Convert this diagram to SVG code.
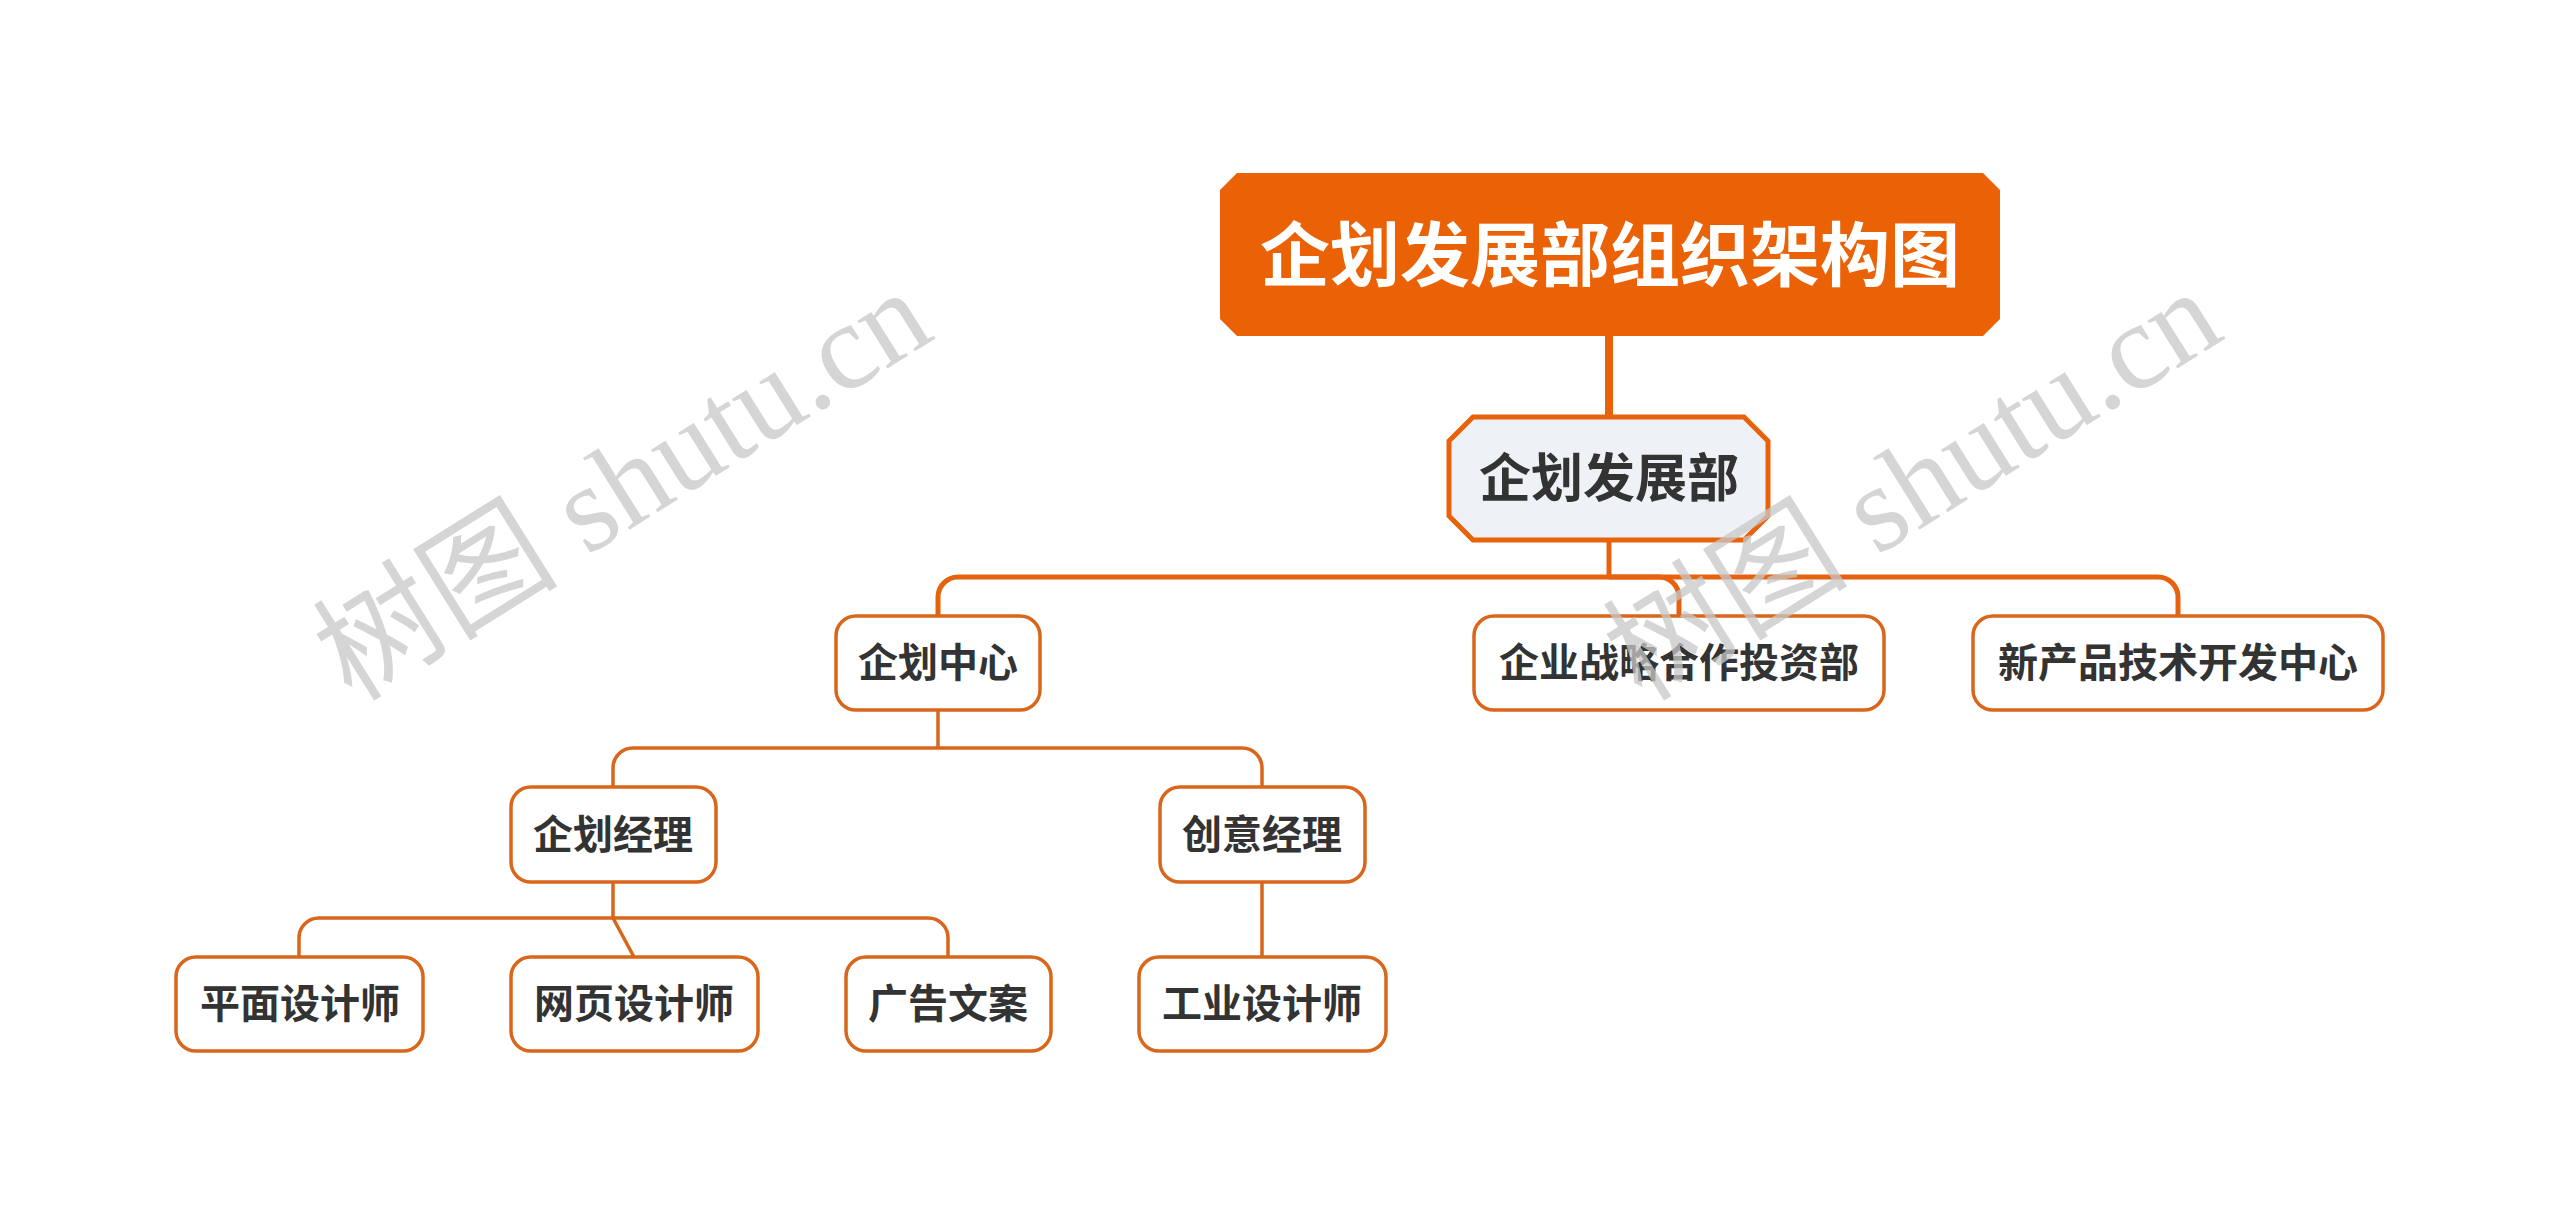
<svg xmlns="http://www.w3.org/2000/svg" width="2560" height="1227" viewBox="0 0 2560 1227">
<style>
.bg{fill:#ffffff}
.c1{fill:none;stroke:#E6620E;stroke-width:5}
.c2{fill:none;stroke:#D9661A;stroke-width:3.5}
.node rect{fill:#ffffff;stroke:#D9661A;stroke-width:3.5}
.t{font-family:"Noto Sans CJK SC","Noto Sans",sans-serif;font-weight:bold;fill:#333333;text-anchor:middle}
.t40{font-size:40px}
.wm{font-family:"Liberation Serif","Noto Sans CJK SC",serif;font-size:123px;fill:#c8c8c8;opacity:0.75}
</style>
<rect class="bg" x="0" y="0" width="2560" height="1227"/>
<g id="connectors">
<line x1="1609" y1="334" x2="1609" y2="417" stroke="#E8620A" stroke-width="8"/>
<line class="c1" x1="1609" y1="542" x2="1609" y2="577"/>
<path class="c1" d="M938,616 V597 A20,20 0 0 1 958,577 H2158 A20,20 0 0 1 2178,597 V616"/>
<path class="c1" d="M1609,577 H1659 A20,20 0 0 1 1679,597 V616"/>
<line class="c2" x1="938" y1="710" x2="938" y2="748"/>
<path class="c2" d="M613,787 V768 A20,20 0 0 1 633,748 H1242 A20,20 0 0 1 1262,768 V787"/>
<line class="c2" x1="613" y1="882" x2="613" y2="918"/>
<path class="c2" d="M299,957 V938 A20,20 0 0 1 319,918 H928 A20,20 0 0 1 948,938 V957"/>
<line class="c2" x1="613" y1="918" x2="634" y2="957"/>
<line class="c2" x1="1262" y1="882" x2="1262" y2="957"/>
</g>
<g id="root">
<path d="M1237,173 H1983 L2000,190 V319 L1983,336 H1237 L1220,319 V190 Z" fill="#EA6106"/>
<text x="1610" y="281" font-family="Noto Sans CJK SC,Noto Sans,sans-serif" font-weight="bold" font-size="70" fill="#ffffff" text-anchor="middle">企划发展部组织架构图</text>
</g>
<g id="dept">
<path d="M1473,417 H1744 L1768,441 V516 L1744,540 H1473 L1449,516 V441 Z" fill="#EEF1F5" stroke="#E8620A" stroke-width="5"/>
<text class="t" x="1609" y="497" font-size="52">企划发展部</text>
</g>
<g id="n-qhzx" class="node"><rect x="836" y="616" width="204" height="94" rx="20"/><text class="t t40" x="938" y="677">企划中心</text></g>
<g id="n-qyzl" class="node"><rect x="1474" y="616" width="410" height="94" rx="20"/><text class="t t40" x="1679" y="677">企业战略合作投资部</text></g>
<g id="n-xcp" class="node"><rect x="1973" y="616" width="410" height="94" rx="20"/><text class="t t40" x="2178" y="677">新产品技术开发中心</text></g>
<g id="n-qhjl" class="node"><rect x="511" y="787" width="205" height="95" rx="20"/><text class="t t40" x="613" y="849">企划经理</text></g>
<g id="n-cyjl" class="node"><rect x="1160" y="787" width="205" height="95" rx="20"/><text class="t t40" x="1262" y="849">创意经理</text></g>
<g id="n-pm" class="node"><rect x="176" y="957" width="247" height="94" rx="20"/><text class="t t40" x="300" y="1018">平面设计师</text></g>
<g id="n-wy" class="node"><rect x="511" y="957" width="247" height="94" rx="20"/><text class="t t40" x="634" y="1018">网页设计师</text></g>
<g id="n-gg" class="node"><rect x="846" y="957" width="205" height="94" rx="20"/><text class="t t40" x="948" y="1018">广告文案</text></g>
<g id="n-gy" class="node"><rect x="1139" y="957" width="247" height="94" rx="20"/><text class="t t40" x="1262" y="1018">工业设计师</text></g>
<g id="watermarks">
<text class="wm" transform="translate(352,703) rotate(-32)">树图 shutu.cn</text>
<text class="wm" transform="translate(1642,703) rotate(-32)">树图 shutu.cn</text>
</g>
</svg>
